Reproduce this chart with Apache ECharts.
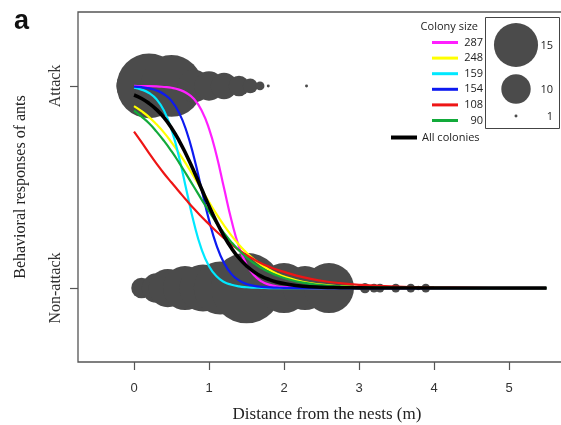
<!DOCTYPE html>
<html>
<head>
<meta charset="utf-8">
<script src="https://cdn.jsdelivr.net/npm/echarts@6/dist/echarts.min.js"></script>
<style>
html,body{margin:0;padding:0;background:#fff;}
#chart{width:561px;height:425px;}
</style>
</head>
<body>
<div id="chart"></div>
<script>
// ---- data ----
const xTickValues = [0, 1, 2, 3, 4, 5];
const yTickValues = [0, 1];
const yTickLabels = ['Non-attack', 'Attack'];

// observed responses (distance, number of observations)
const attackX = [0, 0.2, 0.5, 0.8, 1.0, 1.2, 1.4, 1.55, 1.68, 1.79, 2.3];
const attackN = [12, 22, 21, 11, 10, 9, 7, 5, 3, 1, 1];
const nonAttackX = [0.1, 0.3, 0.45, 0.68, 0.92, 1.15, 1.5, 2.0, 2.28, 2.6, 3.08, 3.2, 3.28, 3.49, 3.69, 3.79, 3.89];
const nonAttackN = [7, 10, 13, 15, 16, 18, 24, 17, 15, 17, 3.5, 3, 3, 3, 3, 1.5, 3];

// fitted curves, probability of attack read at these distances
const curveX = [0,0.1,0.2,0.3,0.4,0.5,0.6,0.7,0.8,0.9,1.0,1.1,1.2,1.3,1.4,1.5,1.6,1.7,1.8,1.9,2.0,2.25,2.5,2.75,3.0,3.5,4.0,4.5,5.0,5.5];
const y287 = [1.000,0.999,0.999,0.998,0.995,0.991,0.982,0.965,0.935,0.880,0.789,0.657,0.495,0.334,0.204,0.116,0.063,0.033,0.017,0.009,0.005,0.001,0,0,0,0,0,0,0,0];
const y248 = [0.900,0.875,0.846,0.810,0.769,0.721,0.668,0.611,0.550,0.488,0.426,0.366,0.310,0.259,0.214,0.175,0.142,0.114,0.091,0.072,0.057,0.031,0.017,0.009,0.005,0.001,0,0,0,0];
const y159 = [0.991,0.982,0.965,0.934,0.878,0.784,0.648,0.483,0.321,0.193,0.108,0.058,0.030,0.016,0.008,0.004,0.002,0.001,0,0,0,0,0,0,0,0,0,0,0,0];
const y154 = [0.997,0.994,0.988,0.978,0.959,0.926,0.868,0.776,0.646,0.490,0.336,0.211,0.124,0.069,0.038,0.020,0.011,0.006,0.003,0.002,0.001,0,0,0,0,0,0,0,0,0];
const y108 = [0.774,0.722,0.668,0.616,0.567,0.522,0.478,0.434,0.392,0.353,0.316,0.280,0.247,0.216,0.188,0.163,0.141,0.122,0.106,0.092,0.080,0.054,0.036,0.024,0.016,0.007,0.003,0.001,0,0];
const y90  = [0.878,0.848,0.815,0.774,0.728,0.677,0.621,0.561,0.500,0.439,0.379,0.323,0.272,0.226,0.186,0.152,0.122,0.099,0.079,0.063,0.050,0.027,0.015,0.008,0.0045,0.0013,0.0004,0,0,0];
const yAll = [0.955,0.938,0.914,0.883,0.843,0.792,0.730,0.657,0.577,0.491,0.406,0.327,0.257,0.197,0.148,0.110,0.080,0.058,0.042,0.030,0.022,0.009,0.004,0.002,0.001,0,0,0,0,0];

const colonyNames = ['287', '248', '159', '154', '108', '90'];
const colonyValues = [y287, y248, y159, y154, y108, y90];
const allName = 'All colonies';
const sizeLegendValues = [15, 10, 1];

// ---- styles ----
const colonyColors = ['#ff1fff', '#ffff00', '#00e8ff', '#0d1af0', '#ee1515', '#12aa3a'];
const bubbleColor = '#4b4b4b';
const sizeOf = n => n * 2.94;

const series = [];
series.push({
  type: 'scatter', name: 'attack obs', silent: true, z: 1,
  data: attackX.map((x, i) => [x, 1, attackN[i]]),
  symbolSize: v => sizeOf(v[2]),
  itemStyle: { color: bubbleColor, opacity: 1 }
});
series.push({
  type: 'scatter', name: 'non-attack obs', silent: true, z: 1,
  data: nonAttackX.map((x, i) => [x, 0, nonAttackN[i]]),
  symbolSize: v => sizeOf(v[2]),
  itemStyle: { color: bubbleColor, opacity: 1 }
});
colonyNames.forEach((name, i) => {
  series.push({
    type: 'line', name: name, z: 3, smooth: true, showSymbol: false, symbol: 'none',
    data: curveX.map((x, j) => [x, colonyValues[i][j]]),
    lineStyle: { width: 2.2, color: colonyColors[i] },
    itemStyle: { color: colonyColors[i] }
  });
});
series.push({
  type: 'line', name: allName, z: 4, smooth: true, showSymbol: false, symbol: 'none',
  data: curveX.map((x, j) => [x, yAll[j]]),
  lineStyle: { width: 3.6, color: '#000' },
  itemStyle: { color: '#000' }
});

const legendFont = { fontFamily: 'Open Sans', fontSize: 11, color: '#222' };

const graphic = [
  { type: 'text', left: 14, top: 8, style: { text: 'a', font: 'bold 27px "Liberation Sans"', fill: '#111' } },
  { type: 'text', x: 478, y: 27, style: { text: 'Colony size', font: '11px "Open Sans"', fill: '#222', textAlign: 'right', textVerticalAlign: 'middle' } },
  { type: 'rect', shape: { x: 485.5, y: 17.5, width: 74, height: 111 }, style: { fill: 'none', stroke: '#444', lineWidth: 1 } }
];
const sizeLegendY = [45, 89, 116];
sizeLegendValues.forEach((n, i) => {
  graphic.push({ type: 'circle', shape: { cx: 516, cy: sizeLegendY[i], r: sizeOf(n) / 2 }, style: { fill: bubbleColor } });
  graphic.push({ type: 'text', x: 553, y: sizeLegendY[i] + 1, style: { text: String(n), font: '11px "Open Sans"', fill: '#222', textAlign: 'right', textVerticalAlign: 'middle' } });
});

const option = {
  animation: false,
  backgroundColor: '#fff',
  grid: { left: 78, right: -2, top: 12, bottom: 63, containLabel: false, outerBoundsMode: 'none',
    show: true, borderColor: '#555', borderWidth: 1.3, backgroundColor: 'transparent' },
  xAxis: {
    type: 'value', min: -0.747, max: 5.72,
    name: 'Distance from the nests (m)', nameLocation: 'middle', nameGap: 44,
    nameTextStyle: { fontFamily: 'Liberation Serif', fontSize: 17, color: '#222', padding: [0, 0, 0, 13] },
    axisLine: { show: false, onZero: false },
    splitLine: { show: false },
    axisTick: { show: true, customValues: xTickValues, length: 8, lineStyle: { color: '#555', width: 1.2 } },
    axisLabel: { customValues: xTickValues, margin: 20, fontFamily: 'Liberation Sans', fontSize: 13, color: '#333', formatter: v => String(v) }
  },
  yAxis: {
    type: 'value', min: -0.366, max: 1.366,
    name: 'Behavioral responses of ants', nameLocation: 'middle', nameGap: 49, nameRotate: 90,
    nameTextStyle: { fontFamily: 'Liberation Serif', fontSize: 16, color: '#222' },
    axisLine: { show: false, onZero: false },
    splitLine: { show: false },
    axisTick: { show: true, customValues: yTickValues, length: 8, lineStyle: { color: '#555', width: 1.2 } },
    axisLabel: { customValues: yTickValues, rotate: 90, margin: 14, fontFamily: 'Liberation Serif', fontSize: 16, color: '#333',
      formatter: v => yTickLabels[yTickValues.indexOf(v)] }
  },
  legend: [
    {
      data: colonyNames, orient: 'vertical', left: 427, top: 32, icon: 'rect',
      itemWidth: 26, itemHeight: 3, itemGap: 4.6, selectedMode: false,
      formatter: n => '{a|' + n + '}',
      textStyle: Object.assign({}, legendFont, { rich: { a: Object.assign({}, legendFont, { width: 20, align: 'right' }) } })
    },
    {
      data: [allName], orient: 'vertical', left: 386, top: 127, icon: 'rect',
      itemWidth: 26, itemHeight: 4, selectedMode: false,
      textStyle: legendFont
    }
  ],
  graphic: graphic,
  series: series
};

const chart = echarts.init(document.getElementById('chart'), null, { renderer: 'canvas' });
chart.setOption(option);
</script>
</body>
</html>
